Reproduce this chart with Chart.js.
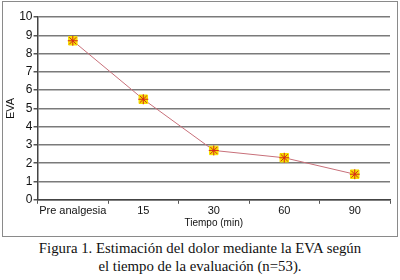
<!DOCTYPE html>
<html>
<head>
<meta charset="utf-8">
<script src="https://cdn.jsdelivr.net/npm/chart.js@4"></script>
<style>
  body { margin: 0; background: #fff; width: 400px; height: 280px; overflow: hidden; }
  #frame { position: absolute; left: 2px; top: 1px; width: 394px; height: 234px; border: 1px solid #8a8a8a; }
  #caption { position: absolute; left: 0; top: 239px; width: 400px; text-align: center;
    font-family: "Liberation Serif", "DejaVu Serif", serif; font-size: 14.8px; line-height: 18px; color: #111; }
</style>
</head>
<body>
<div id="frame"><canvas id="evaChart" width="394" height="234"></canvas></div>
<div id="caption">Figura 1. Estimación del dolor mediante la EVA según<br>el tiempo de la evaluación (n=53).</div>
<script>
// -------- Data --------
const timeLabels = ['Pre analgesia', '15', '30', '60', '90'];
const evaValues = [8.7, 5.5, 2.7, 2.3, 1.4];
const yTicks = [0, 1, 2, 3, 4, 5, 6, 7, 8, 9, 10];

const fontFamily = 'Liberation Sans, Arial, sans-serif';

const ctx = document.getElementById('evaChart').getContext('2d');
const chart = new Chart(ctx, {
  type: 'line',
  data: {
    labels: timeLabels,
    datasets: [
      {
        label: 'EVA',
        data: evaValues,
        order: 2,
        borderColor: '#c8707a',
        borderWidth: 1,
        tension: 0,
        pointStyle: 'rect',
        pointRadius: 6,
        pointBackgroundColor: '#f5e000',
        pointBorderColor: '#f5e000',
        pointBorderWidth: 1
      },
      {
        label: 'EVA star',
        data: evaValues,
        order: 1,
        showLine: false,
        pointStyle: 'star',
        pointRadius: 5,
        pointBorderColor: '#d42a1a',
        pointBackgroundColor: '#d42a1a',
        pointBorderWidth: 1
      }
    ]
  },
  options: {
    responsive: false,
    animation: false,
    layout: { padding: { top: 15, right: 0, left: 1, bottom: 7 } },
    plugins: {
      legend: { display: false },
      tooltip: { enabled: false }
    },
    scales: {
      x: {
        offset: true,
        grid: {
          offset: true,
          color: c => c.index === timeLabels.length ? '#888' : 'rgba(0,0,0,0)',
          tickColor: '#555',
          tickLength: 4
        },
        border: { color: '#444', width: 1.5 },
        ticks: { color: '#111', font: { family: fontFamily, size: 11 }, padding: 1, maxRotation: 0, autoSkip: false },
        title: { display: true, text: 'Tiempo (min)', color: '#111', font: { family: fontFamily, size: 10 }, padding: { top: -2, bottom: 0 } }
      },
      y: {
        min: 0,
        max: 10,
        afterBuildTicks: axis => { axis.ticks = yTicks.map(v => ({ value: v })); },
        grid: { color: '#7a7a7a', lineWidth: 1.5, tickColor: '#555', tickLength: 4 },
        border: { color: '#444', width: 1.5 },
        ticks: { color: '#111', font: { family: fontFamily, size: 12 }, padding: 1 },
        title: { display: true, text: 'EVA', color: '#111', font: { family: fontFamily, size: 11 }, padding: { top: 0, bottom: 1 } }
      }
    }
  }
});
</script>
</body>
</html>
